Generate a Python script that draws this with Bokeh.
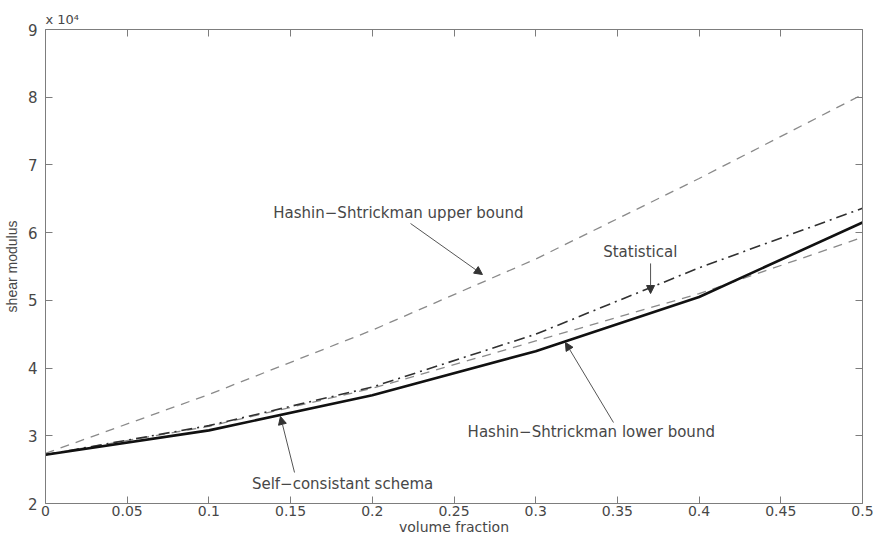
from bokeh.plotting import figure
from bokeh.models import (Range1d, LinearAxis, FixedTicker, CustomJSTickFormatter,
                          Label, Arrow, NormalHead, Title)
from bokeh.embed import file_html
from bokeh.resources import INLINE

# ---- data ----
volume_fraction = [0.0, 0.1, 0.2, 0.3, 0.4, 0.5]
self_consistent = [27200, 30800, 36000, 42500, 50500, 61500]
statistical     = [27200, 31500, 37200, 45000, 54800, 63600]
hs_lower        = [27200, 31400, 37000, 44000, 51000, 59300]
hs_upper        = [27400, 36100, 45600, 56100, 68000, 80400]

x_ticks = [0, 0.05, 0.1, 0.15, 0.2, 0.25, 0.3, 0.35, 0.4, 0.45, 0.5]
y_ticks = [20000, 30000, 40000, 50000, 60000, 70000, 80000, 90000]

TXT = "#474747"
AX = "#7d7d7d"
HFONT = "DejaVu Sans"

p = figure(width=877, height=537, output_backend="svg", toolbar_location=None,
           x_range=Range1d(0, 0.5), y_range=Range1d(20000, 90000),
           min_border_left=45, min_border_right=15, min_border_top=29, min_border_bottom=34,
           x_axis_location=None, y_axis_location=None)
p.grid.visible = False
p.outline_line_color = None
p.background_fill_color = "white"

def style_axis(ax, labels=True):
    ax.axis_line_color = AX
    ax.major_tick_line_color = AX
    ax.major_tick_in = 7
    ax.major_tick_out = 0
    ax.minor_tick_line_color = None
    ax.major_label_text_color = TXT
    ax.major_label_text_font = HFONT
    ax.major_label_text_font_size = "14px"
    if not labels:
        ax.major_label_text_font_size = "0px"
        ax.major_label_standoff = 0

xfmt = CustomJSTickFormatter(code="return String(Math.round(tick*100)/100);")
yfmt = CustomJSTickFormatter(code="return String(Math.round(tick/10000));")
empty = CustomJSTickFormatter(code="return '';")

xb = LinearAxis(ticker=FixedTicker(ticks=x_ticks), formatter=xfmt,
                axis_label="volume fraction")
style_axis(xb)
xb.major_label_standoff = 2
xb.axis_label_standoff = 0
xb.axis_label_text_font = HFONT
xb.axis_label_text_font_size = "14px"
xb.axis_label_text_font_style = "normal"
xb.axis_label_text_color = TXT
p.add_layout(xb, "below")

yl = LinearAxis(ticker=FixedTicker(ticks=y_ticks), formatter=yfmt,
                axis_label="shear modulus")
style_axis(yl)
yl.major_label_text_font_size = "15px"
yl.major_label_standoff = 8
yl.axis_label_standoff = 5
yl.axis_label_text_font = "Liberation Sans"
yl.axis_label_text_font_size = "14px"
yl.axis_label_text_font_style = "normal"
yl.axis_label_text_color = TXT
p.add_layout(yl, "left")

xt = LinearAxis(ticker=FixedTicker(ticks=x_ticks), formatter=empty)
style_axis(xt, labels=False)
p.add_layout(xt, "above")

yr = LinearAxis(ticker=FixedTicker(ticks=y_ticks), formatter=empty)
style_axis(yr, labels=False)
p.add_layout(yr, "right")

p.add_layout(Title(text="x 10\u2074", align="left", text_font=HFONT, text_font_size="13px",
                   text_font_style="normal", text_color=TXT, standoff=5, offset=0), "above")

# ---- curves ----
p.line(volume_fraction, hs_upper, line_color="#8a8a8a", line_width=1.3, line_dash="9 7")
p.line(volume_fraction, hs_lower, line_color="#8a8a8a", line_width=1.3, line_dash="9 7")
p.line(volume_fraction, statistical, line_color="#303030", line_width=1.6, line_dash="11 5 2 5")
p.line(volume_fraction, self_consistent, line_color="#111111", line_width=2.6)

# ---- annotations ----
def label(x, y, text, size="15px", align="center", baseline="middle", font=HFONT):
    p.add_layout(Label(x=x, y=y, text=text, text_align=align, text_baseline=baseline,
                       text_font=font, text_font_size=size, text_color=TXT))

def arrow(x0, y0, x1, y1):
    p.add_layout(Arrow(x_start=x0, y_start=y0, x_end=x1, y_end=y1,
                       line_color="#555555", line_width=1,
                       end=NormalHead(size=8, fill_color="#333333", line_color="#333333")))

label(0.216, 62830, "Hashin\u2212Shtrickman upper bound")
arrow(0.2234, 61350, 0.2674, 53820)

label(0.364, 57070, "Statistical")
arrow(0.3703, 55450, 0.3703, 51010)

label(0.334, 30490, "Hashin\u2212Shtrickman lower bound")
arrow(0.3476, 31960, 0.3182, 43780)

label(0.1818, 22950, "Self\u2212consistant schema")
arrow(0.1524, 24580, 0.1438, 32850)

open("out.html", "w").write(file_html(p, INLINE))
